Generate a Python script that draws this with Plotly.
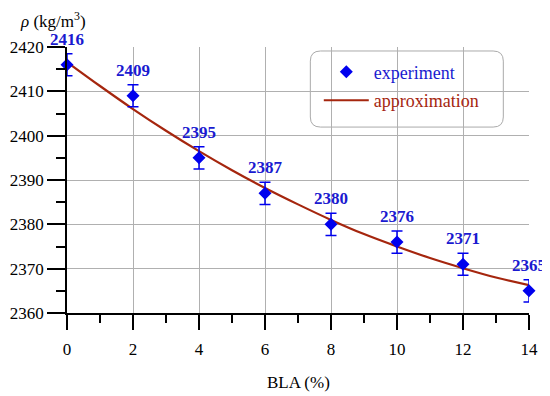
import plotly.graph_objects as go

# Data
bla = [0, 2, 4, 6, 8, 10, 12, 14]
density = [2416, 2409, 2395, 2387, 2380, 2376, 2371, 2365]
density_err = [2.5, 2.5, 2.5, 2.5, 2.5, 2.5, 2.5, 2.5]

approx_x = [0, 1, 2, 3, 4, 5, 6, 7, 8, 9, 10, 11, 12, 13, 14]
approx_y = [2416.6, 2411.2, 2406.0, 2401.1, 2396.5, 2392.2, 2388.2, 2384.5,
            2381.0, 2377.8, 2375.0, 2372.4, 2370.1, 2368.0, 2366.3]

x_ticks = [0, 2, 4, 6, 8, 10, 12, 14]
y_ticks = [2360, 2370, 2380, 2390, 2400, 2410, 2420]

FONT = "Liberation Serif, Times New Roman, serif"
BLUE = "#0000ee"
LABEL_BLUE = "#1a1ad0"
RED = "#a5260e"

fig = go.Figure()

fig.add_trace(go.Scatter(
    x=approx_x, y=approx_y, mode="lines", name=f'<span style="color:{RED}">approximation</span>',
    line=dict(color=RED, width=2.2, shape="spline"), legendrank=2, legendgroup="b",
    cliponaxis=False,
))
fig.add_trace(go.Scatter(
    x=bla, y=density, mode="markers", name=f'<span style="color:{LABEL_BLUE}">experiment</span>',
    marker=dict(symbol="diamond", size=10, color=BLUE),
    error_y=dict(type="data", array=density_err, color=BLUE, thickness=1.5, width=5.5),
    legendrank=1, legendgroup="a", cliponaxis=False,
))

for xv, yv, ev in zip(bla, density, density_err):
    fig.add_annotation(x=xv, y=yv + ev, text=f"<b>{yv}</b>", showarrow=False,
                       yanchor="bottom", yshift=3,
                       font=dict(family=FONT, size=17, color=LABEL_BLUE))

# Rounded legend frame
x0, x1, y0, y1 = 0.5267, 0.9444, 0.699, 0.985
rx, ry = 0.022, 0.038
path = (f"M {x0+rx},{y0} L {x1-rx},{y0} Q {x1},{y0} {x1},{y0+ry} "
        f"L {x1},{y1-ry} Q {x1},{y1} {x1-rx},{y1} L {x0+rx},{y1} "
        f"Q {x0},{y1} {x0},{y1-ry} L {x0},{y0+ry} Q {x0},{y0} {x0+rx},{y0} Z")
fig.add_shape(type="path", path=path, xref="paper", yref="paper",
              line=dict(color="#aaaaaa", width=1), fillcolor="white", layer="between")

fig.add_annotation(text="<i>ρ</i> (kg/m<sup>3</sup>)", xref="paper", yref="paper",
                   x=-0.106, y=1.10, xanchor="left", yanchor="middle", showarrow=False,
                   font=dict(family=FONT, size=17, color="black"))
fig.add_annotation(text="BLA (%)", xref="paper", yref="paper",
                   x=0.5, y=-0.263, xanchor="center", yanchor="middle", showarrow=False,
                   font=dict(family=FONT, size=17, color="black"))

fig.update_layout(
    width=542, height=388,
    margin=dict(l=59, r=21, t=39, b=83, autoexpand=False),
    paper_bgcolor="white", plot_bgcolor="white",
    font=dict(family=FONT, size=17, color="black"),
    showlegend=True,
    legend=dict(x=0.545, y=0.975, xanchor="left", yanchor="top",
                bgcolor="rgba(0,0,0,0)", borderwidth=0, itemwidth=45,
                tracegroupgap=2, font=dict(family=FONT, size=18)),
    xaxis=dict(range=[0, 14], tickvals=x_ticks, showgrid=True, gridcolor="#b0b0b0",
               gridwidth=1, zeroline=False, showline=True, linecolor="black", linewidth=1.5,
               ticks="outside", ticklen=15, tickwidth=1.5, tickcolor="black",
               minor=dict(dtick=1, ticks="outside", ticklen=8, tickwidth=1.5,
                          tickcolor="black", showgrid=False),
               tickfont=dict(family=FONT, size=17), ticklabelstandoff=5, automargin=False),
    yaxis=dict(range=[2360, 2420], tickvals=y_ticks, showgrid=True, gridcolor="#b0b0b0",
               gridwidth=1, zeroline=False, showline=True, linecolor="black", linewidth=1.5,
               ticks="outside", ticklen=18, tickwidth=1.5, tickcolor="black",
               minor=dict(dtick=5, ticks="outside", ticklen=9, tickwidth=1.5,
                          tickcolor="black", showgrid=False),
               tickfont=dict(family=FONT, size=17), automargin=False),
)

fig.write_html("out.html")
